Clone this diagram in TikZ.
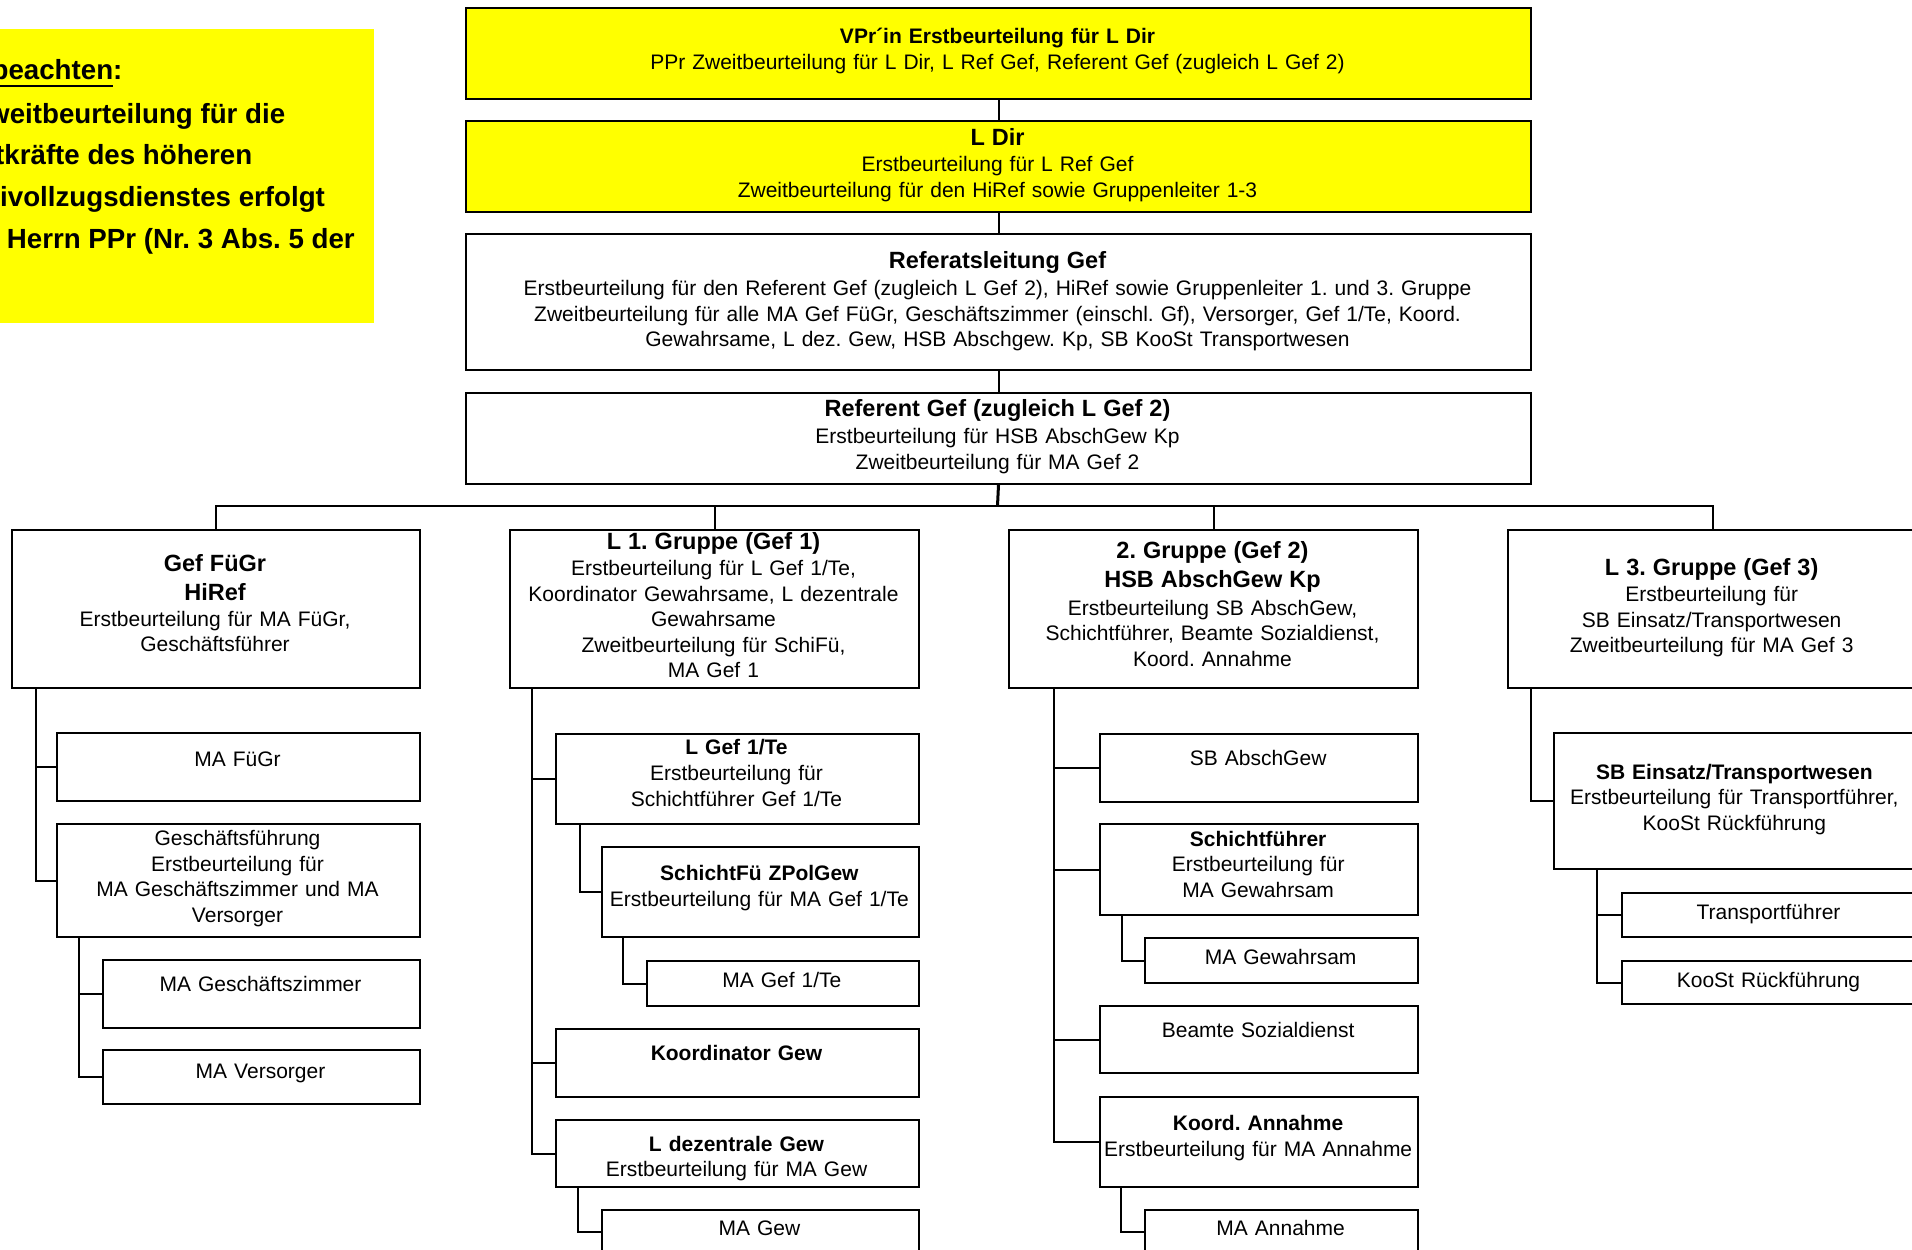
\documentclass[tikz,border=0pt]{standalone}
\usepackage{fontspec}
\setmainfont{Liberation Sans}
\frenchspacing
\definecolor{ylw}{RGB}{255,255,0}
\newcommand{\ttl}[1]{{\fontsize{23.5}{25.6}\selectfont\bfseries #1}}
\newcommand{\tbd}[1]{{\bfseries #1}}
\tikzset{
  box/.style={draw=black, line width=2pt, rectangle, inner sep=0pt, anchor=north west},
  ybox/.style={box, fill=ylw},
  txt/.style={anchor=base, inner sep=0pt, text width=1100pt, align=center, font=\fontsize{21}{25.6}\selectfont},
  con/.style={draw=black, line width=2pt},
  notetxt/.style={anchor=base west, inner sep=0pt, font=\fontsize{27.7}{30}\selectfont\bfseries},
}
% [style]{name}{x1}{y1}{x2}{y2}{first baseline}{text}
\newcommand{\obox}[8][box]{%
  \node[#1, minimum width={#5-#3}, minimum height={#6-#4}] (#2) at (#3,#4) {};
  \node[txt] (#2t) at ({(#3+#5)/2},#7) {#8};
}
\begin{document}
\begin{tikzpicture}[x=1pt,y=-1pt]
\useasboundingbox (0,0) rectangle (1912,1250);
\clip (0,0) rectangle (1912,1250);

% note
\fill[ylw] (-5,29) rectangle (374,323);
\node[notetxt] (n1) at (-8.6,79.9) {beachten:};
\node[notetxt] (n2) at (-12,123.2) {weitbeurteilung für die};
\node[notetxt] (n3) at (-5,164.9) {tkräfte des höheren};
\node[notetxt] (n4) at (0,206.6) {ivollzugsdienstes erfolgt};
\node[notetxt] (n5) at (6.7,248.2) {Herrn PPr (Nr. 3 Abs. 5 der};
\draw[line width=2pt] (-10,86) -- (113,86);

% top chain
\obox[ybox]{b1}{465}{7}{1530}{98}{43.5}{\tbd{VPr´in Erstbeurteilung für L Dir}\\
  PPr Zweitbeurteilung für L Dir, L Ref Gef, Referent Gef (zugleich L Gef 2)}
\obox[ybox]{b2}{465}{120}{1530}{211}{145.4}{\ttl{L Dir}\\[0.5pt]
  Erstbeurteilung für L Ref Gef\\
  Zweitbeurteilung für den HiRef sowie Gruppenleiter 1-3}
\obox{b3}{465}{233}{1530}{369}{268.4}{\ttl{Referatsleitung Gef}\\[1.5pt]
  Erstbeurteilung für den Referent Gef (zugleich L Gef 2), HiRef sowie Gruppenleiter 1. und 3. Gruppe\\
  Zweitbeurteilung für alle MA Gef FüGr, Geschäftszimmer (einschl. Gf), Versorger, Gef 1/Te, Koord.\\
  Gewahrsame, L dez. Gew, HSB Abschgew. Kp, SB KooSt Transportwesen}
\obox{b4}{465}{392}{1530}{483}{416.4}{\ttl{Referent Gef (zugleich L Gef 2)}\\[1.5pt]
  Erstbeurteilung für HSB AbschGew Kp\\
  Zweitbeurteilung für MA Gef 2}

% level 2
\obox{g1}{11}{529}{419}{687}{571.4}{\ttl{Gef FüGr}\\[3pt]\ttl{HiRef}\\[0.5pt]
  Erstbeurteilung für MA FüGr,\\ Geschäftsführer}
\obox{g2}{509}{529}{918}{687}{549.1}{\ttl{L 1. Gruppe (Gef 1)}\\[0.8pt]
  Erstbeurteilung für L Gef 1/Te,\\ Koordinator Gewahrsame, L dezentrale\\ Gewahrsame\\
  Zweitbeurteilung für SchiFü,\\ MA Gef 1}
\obox{g3}{1008}{529}{1417}{687}{558.4}{\ttl{2. Gruppe (Gef 2)}\\[3.4pt]\ttl{HSB AbschGew Kp}\\[2pt]
  Erstbeurteilung SB AbschGew,\\ Schichtführer, Beamte Sozialdienst,\\ Koord. Annahme}
\obox{g4}{1507.3}{529}{1916}{687}{575.1}{\ttl{L 3. Gruppe (Gef 3)}\\[0.8pt]
  Erstbeurteilung für\\ SB Einsatz/Transportwesen\\ Zweitbeurteilung für MA Gef 3}

% column 1
\obox{c1a}{56}{732.4}{419}{800.4}{766.5}{MA FüGr}
\obox{c1b}{56}{823}{419}{936}{845.5}{Geschäftsführung\\ Erstbeurteilung für\\ MA Geschäftszimmer und MA\\ Versorger}
\obox{c1c}{102}{958.5}{419}{1027}{991.5}{MA Geschäftszimmer}
\obox{c1d}{102}{1049}{419}{1103}{1078.5}{MA Versorger}

% column 2
\obox{c2a}{555}{733}{918}{823}{754.9}{\tbd{L Gef 1/Te}\\ Erstbeurteilung für\\ Schichtführer Gef 1/Te}
\obox{c2b}{600.7}{846.4}{918}{936.4}{880.5}{\tbd{SchichtFü ZPolGew}\\ Erstbeurteilung für MA Gef 1/Te}
\obox{c2c}{645.7}{960}{918}{1005}{987}{MA Gef 1/Te}
\obox{c2d}{555}{1028}{918}{1096}{1060}{\tbd{Koordinator Gew}}
\obox{c2e}{555}{1119}{918}{1186}{1151}{\tbd{L dezentrale Gew}\\ Erstbeurteilung für MA Gew}
\obox{c2f}{600.7}{1209}{918}{1253}{1235.5}{MA Gew}

% column 3
\obox{c3a}{1099.3}{733}{1417}{800.5}{765.5}{SB AbschGew}
\obox{c3b}{1099.3}{823.4}{1417}{914}{846.3}{\tbd{Schichtführer}\\ Erstbeurteilung für\\ MA Gewahrsam}
\obox{c3c}{1144.3}{937}{1417}{982}{964.5}{MA Gewahrsam}
\obox{c3d}{1099.3}{1005}{1417}{1072}{1037.5}{Beamte Sozialdienst}
\obox{c3e}{1099.3}{1096}{1417}{1186}{1130.5}{\tbd{Koord. Annahme}\\ Erstbeurteilung für MA Annahme}
\obox{c3f}{1144.3}{1209}{1417}{1253}{1235.5}{MA Annahme}

% column 4
\obox{c4a}{1552.7}{732.3}{1916}{868.3}{779.2}{\tbd{SB Einsatz/Transportwesen}\\ Erstbeurteilung für Transportführer,\\ KooSt Rückführung}
\obox{c4b}{1621}{891.7}{1916}{936}{919.2}{Transportführer}
\obox{c4c}{1621}{960}{1916}{1003.3}{987.5}{KooSt Rückführung}

% connectors: top chain and bus
\draw[con] (b1.south) -- (b2.north);
\draw[con] (b2.south) -- (b3.north);
\draw[con] (b3.south) -- (b4.north);
\coordinate (bus) at (997.5,505.7);
\draw[con, line width=3pt] (b4.south) -- (bus);
\draw[con] (g1.north) |- (bus) -| (g4.north);
\draw[con] (g2.north) |- (bus);
\draw[con] (g3.north) |- (bus);

% column 1
\draw[con] ([xshift=24.7pt]g1.south west) |- (c1a.west);
\draw[con] ([xshift=24.7pt]g1.south west) |- (c1b.west);
\draw[con] ([xshift=23pt]c1b.south west) |- (c1c.west);
\draw[con] ([xshift=23pt]c1b.south west) |- (c1d.west);
% column 2
\draw[con] ([xshift=23.3pt]g2.south west) |- (c2a.west);
\draw[con] ([xshift=23.3pt]g2.south west) |- (c2d.west);
\draw[con] ([xshift=23.3pt]g2.south west) |- (c2e.west);
\draw[con] ([xshift=25pt]c2a.south west) |- (c2b.west);
\draw[con] ([xshift=22.6pt]c2b.south west) |- (c2c.west);
\draw[con] ([xshift=22.7pt]c2e.south west) |- (c2f.west);
% column 3
\draw[con] ([xshift=46pt]g3.south west) |- (c3a.west);
\draw[con] ([xshift=46pt]g3.south west) |- (c3b.west);
\draw[con] ([xshift=46pt]g3.south west) |- (c3d.west);
\draw[con] ([xshift=46pt]g3.south west) |- (c3e.west);
\draw[con] ([xshift=22.7pt]c3b.south west) |- (c3c.west);
\draw[con] ([xshift=21.4pt]c3e.south west) |- (c3f.west);
% column 4
\draw[con] ([xshift=23.4pt]g4.south west) |- (c4a.west);
\draw[con] ([xshift=44pt]c4a.south west) |- (c4b.west);
\draw[con] ([xshift=44pt]c4a.south west) |- (c4c.west);
\end{tikzpicture}
\end{document}
